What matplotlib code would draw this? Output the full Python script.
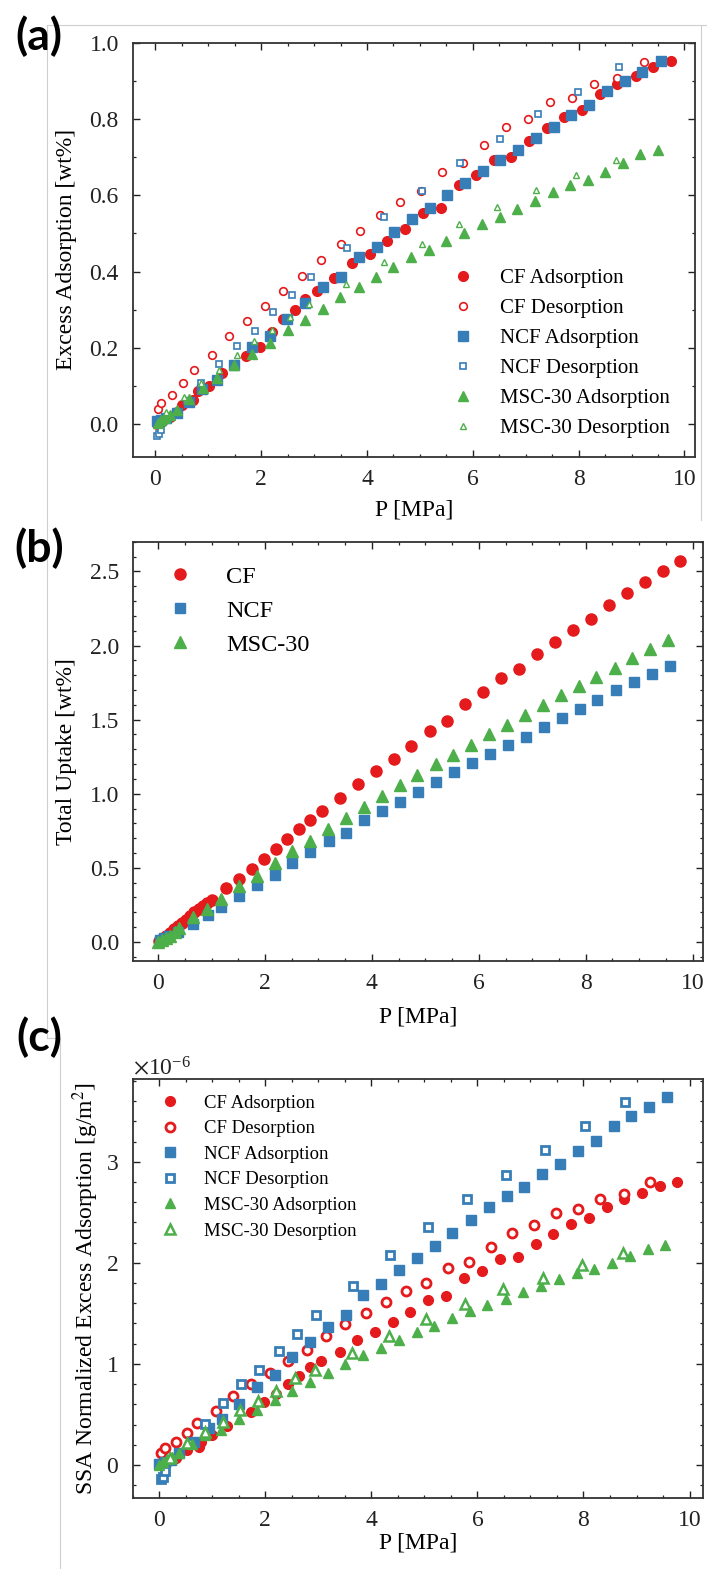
import numpy as np
import matplotlib
matplotlib.use("Agg")
import matplotlib.pyplot as plt
from matplotlib.ticker import MultipleLocator, ScalarFormatter
from matplotlib.lines import Line2D

plt.rcParams['font.family'] = ['Liberation Serif', 'DejaVu Serif']
plt.rcParams['mathtext.fontset'] = 'stix'

rouge = '#e41a1c'
bleu = '#377eb8'
vert = '#4daf4a'

# ---- (a) exces d'adsorption [wt%]
a_cf_ads_p = [0.03, 0.06, 0.1, 0.15, 0.2, 0.28, 0.4, 0.5, 0.71, 0.8, 1.01, 1.25, 1.72, 1.97, 2.2, 2.41, 2.64, 2.83,
              3.05, 3.38, 3.71, 4.05, 4.37, 4.72, 5.06, 5.4, 5.73, 6.06, 6.4, 6.73, 7.06, 7.4, 7.73, 8.07, 8.4,
              8.73, 9.08, 9.41, 9.74]
a_cf_ads = [0.0, 0.003, 0.006, 0.01, 0.015, 0.02, 0.032, 0.05, 0.064, 0.086, 0.099, 0.134, 0.179, 0.203, 0.242,
            0.275, 0.3, 0.329, 0.349, 0.382, 0.422, 0.446, 0.48, 0.512, 0.553, 0.566, 0.626, 0.653, 0.692, 0.7,
            0.742, 0.776, 0.806, 0.825, 0.865, 0.893, 0.912, 0.937, 0.952]
a_cf_des_p = [0.04, 0.11, 0.32, 0.53, 0.73, 1.06, 1.39, 1.73, 2.08, 2.42, 2.78, 3.13, 3.5, 3.87, 4.24, 4.62, 5.02,
              5.42, 5.82, 6.22, 6.63, 7.04, 7.45, 7.87, 8.29, 8.73, 9.23]
a_cf_des = [0.039, 0.055, 0.077, 0.109, 0.141, 0.181, 0.231, 0.271, 0.31, 0.349, 0.388, 0.431, 0.472, 0.507, 0.548,
            0.583, 0.612, 0.66, 0.685, 0.732, 0.778, 0.801, 0.845, 0.856, 0.892, 0.909, 0.949]
a_ncf_ads_p = [0.03, 0.1, 0.2, 0.41, 0.63, 0.88, 1.17, 1.49, 1.82, 2.17, 2.49, 2.83, 3.17, 3.5, 3.84, 4.18, 4.51,
               4.85, 5.19, 5.51, 5.85, 6.19, 6.51, 6.86, 7.19, 7.53, 7.86, 8.2, 8.54, 8.88, 9.2, 9.55]
a_ncf_ads = [0.007, 0.01, 0.015, 0.029, 0.057, 0.092, 0.116, 0.154, 0.202, 0.232, 0.277, 0.319, 0.359, 0.385,
             0.439, 0.465, 0.504, 0.538, 0.567, 0.601, 0.633, 0.665, 0.693, 0.718, 0.751, 0.778, 0.811, 0.838,
             0.873, 0.901, 0.924, 0.952]
a_ncf_des_p = [0.03, 0.07, 0.11, 0.6, 0.86, 1.2, 1.55, 1.89, 2.23, 2.58, 2.94, 3.63, 4.32, 5.03, 5.76, 6.51, 7.24,
               7.99, 8.76]
a_ncf_des = [-0.032, -0.025, -0.015, 0.06, 0.107, 0.158, 0.206, 0.245, 0.294, 0.338, 0.385, 0.462, 0.543, 0.612,
             0.686, 0.747, 0.813, 0.872, 0.936]
a_msc_ads_p = [0.04, 0.1, 0.18, 0.28, 0.4, 0.64, 0.9, 1.16, 1.49, 1.83, 2.17, 2.5, 2.83, 3.17, 3.49, 3.84, 4.17,
               4.5, 4.83, 5.17, 5.5, 5.83, 6.17, 6.51, 6.84, 7.17, 7.51, 7.84, 8.17, 8.5, 8.84, 9.17, 9.5]
a_msc_ads = [0.003, 0.01, 0.016, 0.025, 0.036, 0.066, 0.094, 0.12, 0.154, 0.183, 0.212, 0.247, 0.273, 0.303,
             0.333, 0.361, 0.385, 0.411, 0.438, 0.458, 0.481, 0.501, 0.525, 0.544, 0.565, 0.585, 0.608, 0.626,
             0.639, 0.66, 0.685, 0.709, 0.719]
a_msc_des_p = [0.2, 0.54, 0.87, 1.21, 1.54, 1.87, 2.21, 2.55, 2.91, 3.6, 4.32, 5.03, 5.74, 6.46, 7.2, 7.95, 8.7]
a_msc_des = [0.032, 0.071, 0.107, 0.141, 0.181, 0.219, 0.247, 0.282, 0.315, 0.368, 0.424, 0.472, 0.525, 0.57,
             0.613, 0.654, 0.693]

# ---- (b) capacite totale [wt%]
b_cf_p = [0.02, 0.08, 0.15, 0.22, 0.3, 0.38, 0.45, 0.52, 0.6, 0.68, 0.76, 0.84, 0.92, 1.0, 1.27, 1.52, 1.76, 1.99,
          2.21, 2.42, 2.63, 2.85, 3.06, 3.4, 3.74, 4.07, 4.41, 4.74, 5.08, 5.41, 5.75, 6.08, 6.42, 6.76, 7.09,
          7.43, 7.76, 8.1, 8.43, 8.77, 9.1, 9.44, 9.76]
b_cf = [0.005, 0.02, 0.04, 0.06, 0.085, 0.105, 0.13, 0.15, 0.175, 0.2, 0.225, 0.245, 0.265, 0.28, 0.364, 0.426,
        0.491, 0.559, 0.626, 0.696, 0.761, 0.824, 0.884, 0.972, 1.066, 1.151, 1.237, 1.322, 1.423, 1.492, 1.607,
        1.688, 1.78, 1.842, 1.941, 2.022, 2.107, 2.181, 2.273, 2.356, 2.426, 2.504, 2.57]
b_ncf_p = [0.03, 0.11, 0.2, 0.37, 0.66, 0.93, 1.18, 1.52, 1.85, 2.18, 2.51, 2.84, 3.19, 3.52, 3.85, 4.19, 4.52,
           4.86, 5.2, 5.53, 5.87, 6.21, 6.55, 6.88, 7.22, 7.55, 7.89, 8.22, 8.56, 8.9, 9.24, 9.57]
b_ncf = [0.011, 0.027, 0.043, 0.065, 0.123, 0.18, 0.233, 0.312, 0.384, 0.449, 0.532, 0.604, 0.678, 0.734, 0.824,
         0.88, 0.947, 1.014, 1.077, 1.145, 1.207, 1.27, 1.331, 1.385, 1.45, 1.508, 1.573, 1.629, 1.699, 1.753,
         1.807, 1.865]
b_msc_p = [0.0, 0.07, 0.14, 0.22, 0.32, 0.39, 0.66, 0.92, 1.17, 1.51, 1.85, 2.18, 2.51, 2.84, 3.17, 3.51, 3.85,
           4.19, 4.52, 4.85, 5.19, 5.52, 5.86, 6.19, 6.53, 6.86, 7.2, 7.53, 7.87, 8.2, 8.54, 8.87, 9.2, 9.54]
b_msc = [0.0, 0.013, 0.028, 0.043, 0.067, 0.092, 0.168, 0.224, 0.29, 0.375, 0.447, 0.532, 0.61, 0.684, 0.761,
         0.835, 0.913, 0.985, 1.057, 1.127, 1.198, 1.261, 1.329, 1.405, 1.463, 1.533, 1.596, 1.663, 1.73, 1.786,
         1.849, 1.919, 1.979, 2.038]

# ---- (c) exces normalise par la SSA [g/m2]
c_cf_ads_p = [0.03, 0.08, 0.15, 0.22, 0.31, 0.53, 0.75, 0.79, 1.0, 1.27, 1.74, 1.98, 2.21, 2.42, 2.63, 2.85, 3.06,
              3.4, 3.73, 4.06, 4.4, 4.73, 5.07, 5.41, 5.75, 6.08, 6.42, 6.76, 7.1, 7.43, 7.77, 8.1, 8.44, 8.77,
              9.11, 9.44, 9.77]
c_cf_ads = [0.0, 0.01, 0.025, 0.045, 0.067, 0.15, 0.18, 0.23, 0.3, 0.39, 0.52, 0.62, 0.7, 0.8, 0.88, 0.97, 1.03,
            1.12, 1.24, 1.32, 1.41, 1.51, 1.63, 1.67, 1.85, 1.92, 2.04, 2.06, 2.19, 2.29, 2.38, 2.44, 2.55, 2.63,
            2.69, 2.76, 2.8]
c_cf_des_p = [0.03, 0.11, 0.32, 0.53, 0.72, 1.07, 1.4, 1.74, 2.08, 2.43, 2.78, 3.14, 3.51, 3.89, 4.27, 4.65, 5.04,
              5.44, 5.84, 6.25, 6.66, 7.07, 7.49, 7.9, 8.32, 8.77, 9.26]
c_cf_des = [0.12, 0.17, 0.23, 0.32, 0.42, 0.53, 0.68, 0.8, 0.91, 1.03, 1.14, 1.28, 1.39, 1.5, 1.61, 1.72, 1.8,
            1.95, 2.01, 2.16, 2.3, 2.37, 2.49, 2.53, 2.63, 2.68, 2.8]
c_ncf_ads_p = [0.0, 0.1, 0.22, 0.37, 0.66, 0.93, 1.18, 1.51, 1.85, 2.18, 2.51, 2.85, 3.19, 3.52, 3.85, 4.19, 4.52,
               4.86, 5.2, 5.53, 5.87, 6.21, 6.55, 6.88, 7.22, 7.56, 7.89, 8.23, 8.57, 8.9, 9.24, 9.57]
c_ncf_ads = [0.01, 0.03, 0.05, 0.12, 0.23, 0.37, 0.45, 0.6, 0.77, 0.89, 1.07, 1.22, 1.37, 1.48, 1.68, 1.79, 1.93,
             2.05, 2.17, 2.3, 2.42, 2.55, 2.66, 2.75, 2.88, 2.98, 3.11, 3.21, 3.35, 3.45, 3.54, 3.64]
c_ncf_des_p = [0.03, 0.07, 0.11, 0.6, 0.87, 1.21, 1.55, 1.89, 2.25, 2.59, 2.95, 3.65, 4.36, 5.06, 5.8, 6.54, 7.28,
               8.03, 8.79]
c_ncf_des = [-0.14, -0.12, -0.06, 0.22, 0.41, 0.61, 0.8, 0.94, 1.13, 1.3, 1.48, 1.77, 2.08, 2.35, 2.63, 2.87,
             3.12, 3.35, 3.59]
c_msc_ads_p = [0.0, 0.07, 0.15, 0.24, 0.37, 0.62, 0.87, 1.17, 1.51, 1.85, 2.18, 2.51, 2.84, 3.18, 3.51, 3.85, 4.19,
               4.52, 4.86, 5.19, 5.52, 5.86, 6.19, 6.53, 6.86, 7.2, 7.53, 7.87, 8.2, 8.54, 8.87, 9.21, 9.54]
c_msc_ads = [0.0, 0.03, 0.06, 0.08, 0.12, 0.21, 0.3, 0.35, 0.45, 0.54, 0.64, 0.73, 0.82, 0.91, 1.0, 1.09, 1.16,
             1.24, 1.32, 1.38, 1.45, 1.52, 1.58, 1.64, 1.71, 1.77, 1.84, 1.9, 1.94, 2.0, 2.07, 2.14, 2.18]
c_msc_des_p = [0.2, 0.53, 0.87, 1.2, 1.53, 1.87, 2.21, 2.56, 2.93, 3.63, 4.33, 5.03, 5.76, 6.48, 7.23, 7.98, 8.75]
c_msc_des = [0.07, 0.22, 0.33, 0.43, 0.54, 0.63, 0.73, 0.86, 0.94, 1.11, 1.28, 1.44, 1.59, 1.74, 1.85, 1.98, 2.1]

noms_6 = ["CF Adsorption", "CF Desorption", "NCF Adsorption", "NCF Desorption",
          "MSC-30 Adsorption", "MSC-30 Desorption"]
noms_3 = ["CF", "NCF", "MSC-30"]

fig = plt.figure(figsize=(7.07, 15.69), dpi=100)
ax_a = fig.add_axes([0.1877, 0.7090, 0.7953, 0.2637])
ax_b = fig.add_axes([0.1881, 0.3877, 0.8067, 0.2670])
ax_c = fig.add_axes([0.1877, 0.04544, 0.8071, 0.2669])


def habiller(ax, ymaj, ymin):
    ax.xaxis.set_major_locator(MultipleLocator(2))
    ax.xaxis.set_minor_locator(MultipleLocator(0.5))
    ax.yaxis.set_major_locator(MultipleLocator(ymaj))
    ax.yaxis.set_minor_locator(MultipleLocator(ymin))
    ax.tick_params(which='both', direction='in', top=True, right=True, colors='#222222', labelsize=17)
    ax.tick_params(which='major', length=5, width=1.0)
    ax.tick_params(axis='x', which='major', pad=9)
    ax.tick_params(axis='y', which='major', pad=10)
    ax.tick_params(which='minor', length=2.5, width=0.9)
    for s in ax.spines.values():
        s.set_linewidth(1.3)
        s.set_color('#333333')
    ax.set_xlabel("P [MPa]", fontsize=17)


# (a)
ax_a.plot(a_cf_ads_p, a_cf_ads, 'o', color=rouge, ms=7, label=noms_6[0])
ax_a.plot(a_cf_des_p, a_cf_des, 'o', mfc='white', mec=rouge, mew=1.2, ms=5.5, label=noms_6[1])
ax_a.plot(a_ncf_ads_p, a_ncf_ads, 's', color=bleu, ms=6.5, label=noms_6[2])
ax_a.plot(a_ncf_des_p, a_ncf_des, 's', mfc='white', mec=bleu, mew=1.2, ms=5, label=noms_6[3])
ax_a.plot(a_msc_ads_p, a_msc_ads, '^', color=vert, ms=7, label=noms_6[4])
ax_a.plot(a_msc_des_p, a_msc_des, '^', mfc='white', mec=vert, mew=1.0, ms=5, label=noms_6[5])
ax_a.set_xlim(-0.43, 10.2)
ax_a.set_ylim(-0.085, 1.0)
habiller(ax_a, 0.2, 0.1)
ax_a.yaxis.set_major_formatter(plt.FormatStrFormatter('%.1f'))
ax_a.set_ylabel("Excess Adsorption [wt%]", fontsize=17, va='center')
ax_a.yaxis.set_label_coords(-0.117, 0.5)
ax_a.xaxis.set_label_coords(0.5, -0.129)
ax_a.xaxis.label.set_va('center')
ax_a.legend(loc='lower right', bbox_to_anchor=(0.974, 0.02), frameon=False, fontsize=15,
            handlelength=1.0, handletextpad=1.3, labelspacing=0.5, borderpad=0, numpoints=1)

# (b)
ax_b.plot(b_cf_p, b_cf, 'o', color=rouge, ms=8, label=noms_3[0])
ax_b.plot(b_ncf_p, b_ncf, 's', color=bleu, ms=7.5, label=noms_3[1])
ax_b.plot(b_msc_p, b_msc, '^', color=vert, ms=8, label=noms_3[2])
ax_b.set_xlim(-0.47, 10.2)
ax_b.set_ylim(-0.127, 2.7)
habiller(ax_b, 0.5, 0.1)
ax_b.yaxis.set_major_formatter(plt.FormatStrFormatter('%.1f'))
ax_b.set_ylabel("Total Uptake [wt%]", fontsize=17, va='center')
ax_b.yaxis.set_label_coords(-0.116, 0.5)
ax_b.xaxis.set_label_coords(0.5, -0.134)
ax_b.xaxis.label.set_va('center')
ax_b.legend(loc='upper left', bbox_to_anchor=(0.04, 0.972), frameon=False, fontsize=17.5,
            handlelength=1.0, handletextpad=1.4, labelspacing=0.5, borderpad=0, numpoints=1)

# (c)
e6 = 1e-6
ax_c.plot(np.array(c_cf_ads_p), np.array(c_cf_ads) * e6, 'o', color=rouge, ms=7, label=noms_6[0])
ax_c.plot(np.array(c_cf_des_p), np.array(c_cf_des) * e6, 'o', mfc='white', mec=rouge, mew=2, ms=6.5,
          label=noms_6[1])
ax_c.plot(np.array(c_ncf_ads_p), np.array(c_ncf_ads) * e6, 's', color=bleu, ms=6.5, label=noms_6[2])
ax_c.plot(np.array(c_ncf_des_p), np.array(c_ncf_des) * e6, 's', mfc='white', mec=bleu, mew=2, ms=6,
          label=noms_6[3])
ax_c.plot(np.array(c_msc_ads_p), np.array(c_msc_ads) * e6, '^', color=vert, ms=7, label=noms_6[4])
ax_c.plot(np.array(c_msc_des_p), np.array(c_msc_des) * e6, '^', mfc='white', mec=vert, mew=1.8, ms=6.5,
          label=noms_6[5])
ax_c.set_xlim(-0.5, 10.26)
ax_c.set_ylim(-0.324e-6, 3.82e-6)
habiller(ax_c, 1e-6, 0.2e-6)
fmt = ScalarFormatter(useMathText=True)
fmt.set_powerlimits((0, 0))
ax_c.yaxis.set_major_formatter(fmt)
ax_c.yaxis.get_offset_text().set_fontsize(17)
ax_c.set_ylabel(r"SSA Normalized Excess Adsorption [g/m$^2$]", fontsize=17, va='center')
ax_c.yaxis.set_label_coords(-0.082, 0.5)
ax_c.xaxis.set_label_coords(0.5, -0.107)
ax_c.xaxis.label.set_va('center')
ax_c.legend(loc='upper left', bbox_to_anchor=(0.032, 0.985), frameon=False, fontsize=13.5,
            handlelength=1.0, handletextpad=1.33, labelspacing=0.45, borderpad=0, numpoints=1)

# lettres des panneaux
for lettre, yy in [("(a)", 36), ("(b)", 548), ("(c)", 1037)]:
    fig.text(39 / 707, 1 - yy / 1569, lettre, family=['Lato', 'DejaVu Sans'], fontweight='bold',
             fontsize=32, ha='center', va='center')

# bords gris des images collees
gris = '#cfcfcf'
W, H = 707.0, 1569.0
bords = [((47, 707), (25, 25)), ((47, 47), (25, 1038)), ((47, 60), (1038, 1038)),
         ((60, 60), (1038, 1569)), ((701, 701), (25, 520))]
for xs, ys in bords:
    fig.add_artist(Line2D([x / W for x in xs], [1 - y / H for y in ys], color=gris, lw=0.8, zorder=0))

fig.savefig("out.png", dpi=100)
